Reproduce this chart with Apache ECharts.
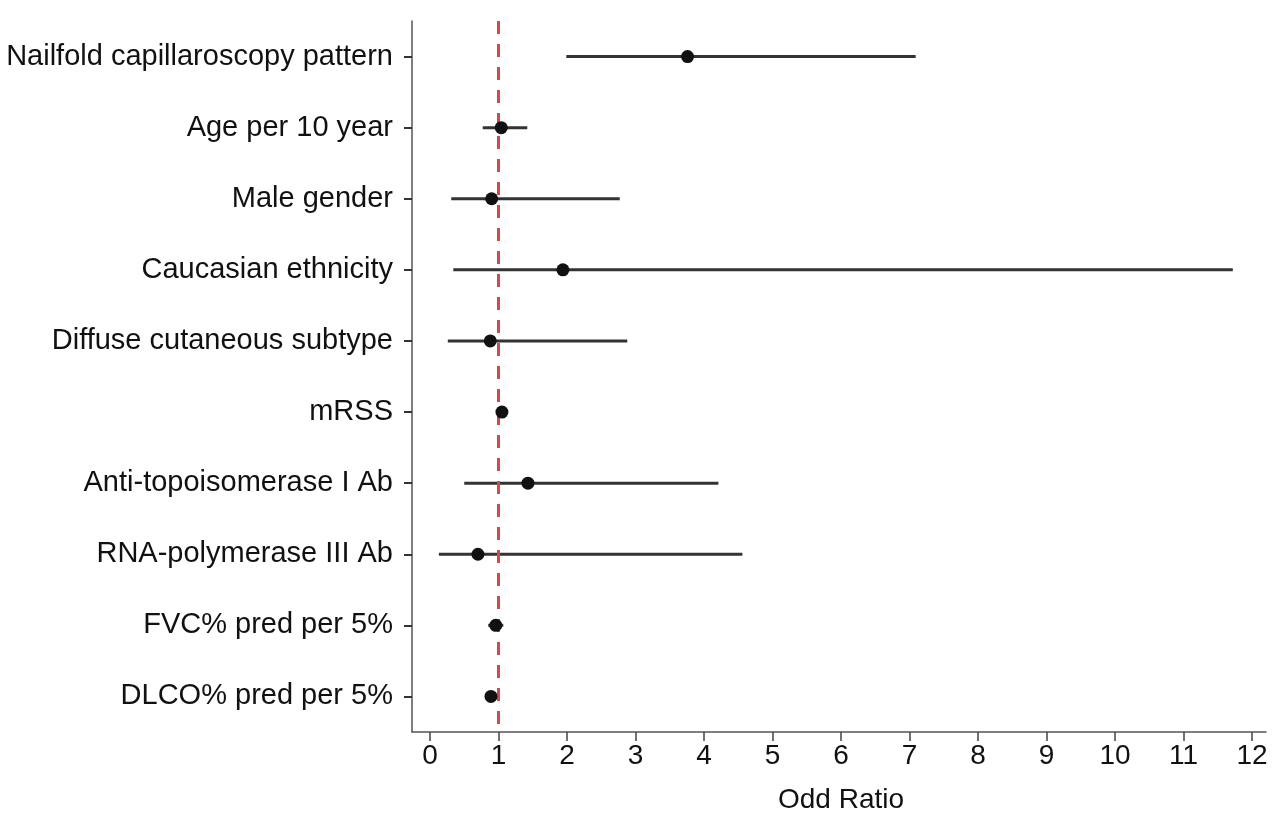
<!DOCTYPE html>
<html>
<head>
<meta charset="utf-8">
<script src="https://cdn.jsdelivr.net/npm/echarts@6/dist/echarts.min.js"></script>
<style>
html, body { margin: 0; padding: 0; background: #fff; }
#chart { width: 1280px; height: 822px; }
</style>
</head>
<body>
<div id="chart"></div>
<script>
// 变量名称
var labels = [
	'Nailfold capillaroscopy pattern',
	'Age per 10 year',
	'Male gender',
	'Caucasian ethnicity',
	'Diffuse cutaneous subtype',
	'mRSS',
	'Anti-topoisomerase I Ab',
	'RNA-polymerase III Ab',
	'FVC% pred per 5%',
	'DLCO% pred per 5%'
];
// 比值比及置信区间
var oddRatio = [3.76, 1.04, 0.90, 1.94, 0.88, 1.05, 1.43, 0.70, 0.96, 0.89];
var lower    = [1.99, 0.77, 0.31, 0.34, 0.26, 1.00, 0.50, 0.13, 0.85, 0.83];
var upper    = [7.09, 1.42, 2.77, 11.72, 2.88, 1.10, 4.21, 4.56, 1.07, 0.95];
var refLine = 1;

var font = "'Liberation Sans', Arial, Helvetica, sans-serif";

var ciData = [];
var pointData = [];
for (var i = 0; i < labels.length; i++) {
	ciData.push([lower[i], upper[i], i]);
	pointData.push([oddRatio[i], i]);
}

var myChart = echarts.init(document.getElementById('chart'));
var option = {
	backgroundColor: '#fff',
	animation: false,
	textStyle: { fontFamily: font },
	grid: [
		// 数据区域
		{ left: 430, right: 28, top: 21, bottom: 90 },
		// 坐标轴框线
		{ left: 412, right: 14, top: 21, bottom: 90 }
	],
	xAxis: [{
		gridIndex: 0,
		type: 'value',
		min: 0,
		max: 12,
		interval: 1,
		name: 'Odd Ratio',
		nameLocation: 'middle',
		nameGap: 54,
		nameTextStyle: { fontSize: 28, color: '#111', fontFamily: font },
		axisLine: { show: false },
		axisTick: { show: true, length: 9, lineStyle: { color: '#444', width: 1.5 } },
		axisLabel: { fontSize: 28, color: '#111', margin: 10, fontFamily: font },
		splitLine: { show: false }
	}, {
		gridIndex: 1,
		type: 'value',
		min: 0,
		max: 1,
		axisLine: { show: true, lineStyle: { color: '#555', width: 1.5 } },
		axisTick: { show: false },
		axisLabel: { show: false },
		splitLine: { show: false }
	}],
	yAxis: [{
		gridIndex: 0,
		type: 'category',
		data: labels,
		inverse: true,
		show: false
	}, {
		gridIndex: 1,
		type: 'category',
		data: labels,
		inverse: true,
		axisLine: { show: true, lineStyle: { color: '#555', width: 1.5 } },
		axisTick: { show: true, alignWithLabel: true, length: 8, lineStyle: { color: '#333', width: 2 } },
		axisLabel: { fontSize: 29, color: '#111', margin: 19, fontFamily: font },
		splitLine: { show: false }
	}],
	series: [{
		name: 'CI',
		type: 'custom',
		xAxisIndex: 0,
		yAxisIndex: 0,
		data: ciData,
		encode: { x: [0, 1], y: 2 },
		renderItem: function (params, api) {
			var p1 = api.coord([api.value(0), api.value(2)]);
			var p2 = api.coord([api.value(1), api.value(2)]);
			return {
				type: 'line',
				shape: { x1: p1[0], y1: p1[1], x2: p2[0], y2: p2[1] },
				style: { stroke: '#333', lineWidth: 3 }
			};
		},
		silent: true
	}, {
		name: 'OR',
		type: 'scatter',
		xAxisIndex: 0,
		yAxisIndex: 0,
		data: pointData,
		symbol: 'circle',
		symbolSize: 13,
		itemStyle: { color: '#111', opacity: 1 },
		z: 5,
		markLine: {
			silent: true,
			symbol: 'none',
			label: { show: false },
			lineStyle: { color: '#cf4a48', type: [13, 10], width: 3 },
			data: [{ xAxis: refLine }]
		}
	}]
};
myChart.setOption(option);
</script>
</body>
</html>
